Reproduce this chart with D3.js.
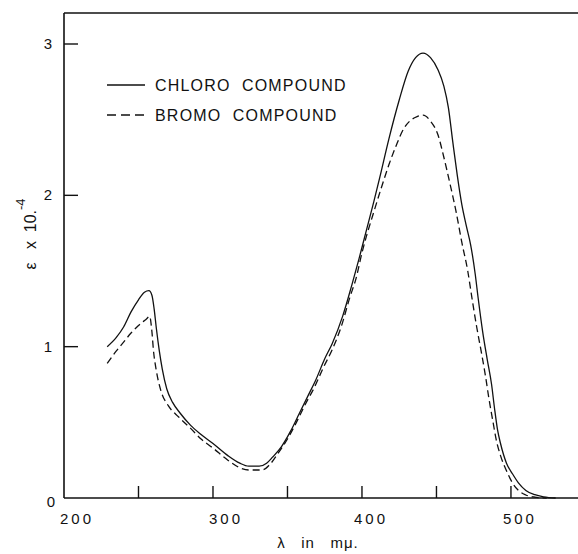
<!DOCTYPE html>
<html>
<head>
<meta charset="utf-8">
<script src="https://cdn.jsdelivr.net/npm/d3@7"></script>
<style>
  body { margin: 0; background: #fff; }
  svg { display: block; }
  text { font-family: 'Liberation Sans', Arial, sans-serif; fill: #111; white-space: pre; }
  .curve { fill: none; stroke: #111; stroke-width: 1.3; }
</style>
</head>
<body>
<div id="chart"></div>
<script>
'use strict';

// wavelength (m\u03bc) / epsilon x 10^-4
var chloroWave = [229, 235, 240, 245, 250, 254, 257, 259, 260.5, 262, 264, 266, 269, 273, 278, 285, 292, 300, 310, 318, 324, 331, 336, 340, 346, 352, 358, 364, 369, 375, 380, 387, 393, 398, 403, 408, 412, 418, 425, 431, 436, 441, 446, 451, 455, 458, 461, 464, 467, 470, 473, 476, 478, 481, 484, 487, 489, 491, 493, 497, 501, 505, 510, 516, 522, 530];
var chloroEps = [1.00, 1.06, 1.13, 1.23, 1.31, 1.36, 1.37, 1.34, 1.25, 1.12, 0.97, 0.85, 0.72, 0.63, 0.56, 0.48, 0.42, 0.36, 0.28, 0.23, 0.21, 0.21, 0.23, 0.27, 0.34, 0.44, 0.56, 0.68, 0.78, 0.92, 1.02, 1.20, 1.40, 1.58, 1.77, 1.96, 2.12, 2.37, 2.63, 2.82, 2.91, 2.94, 2.91, 2.83, 2.72, 2.58, 2.35, 2.13, 1.94, 1.80, 1.67, 1.48, 1.32, 1.10, 0.92, 0.75, 0.59, 0.45, 0.36, 0.23, 0.16, 0.10, 0.05, 0.022, 0.008, 0.0];

var bromoWave = [229, 235, 240, 245, 250, 255, 257.5, 259, 260, 262, 265, 270, 277, 285, 292, 300, 310, 318, 324, 333, 338, 344, 350, 356, 362, 368, 374, 380, 386, 392, 396, 400, 403, 407, 413, 418, 423, 428, 432, 437, 441, 446, 451, 455, 459, 463, 467, 471, 474, 477, 480, 483, 485, 488, 490, 493, 497, 501, 505, 510, 516, 524];
var bromoEps = [0.89, 0.97, 1.03, 1.09, 1.14, 1.18, 1.20, 1.10, 0.98, 0.84, 0.71, 0.61, 0.535, 0.46, 0.39, 0.33, 0.25, 0.20, 0.185, 0.185, 0.22, 0.30, 0.39, 0.50, 0.62, 0.73, 0.86, 0.98, 1.13, 1.33, 1.45, 1.62, 1.73, 1.86, 2.05, 2.20, 2.33, 2.44, 2.49, 2.52, 2.53, 2.49, 2.40, 2.25, 2.08, 1.90, 1.69, 1.50, 1.31, 1.13, 0.97, 0.80, 0.67, 0.50, 0.39, 0.28, 0.18, 0.10, 0.05, 0.02, 0.006, 0.0];

var xTicks = [250, 300, 350, 400, 450, 500];
var xTickLabels = [200, 300, 400, 500];
var yTicks = [1, 2, 3];
var yTickLabels = [0, 1, 2, 3];
var legendNames = ['CHLORO  COMPOUND', 'BROMO  COMPOUND'];

var width = 578;
var height = 554;
var margins = { left: 64, right: 0, top: 13, bottom: 56 };

var svg = d3.select('#chart').append('svg')
	.attr('width', width)
	.attr('height', height);

var x = d3.scaleLinear().domain([200, 545]).range([margins.left, width - margins.right]);
// 0 sits on the bottom axis (y=498), 3 at y=44
var y = d3.scaleLinear().domain([0, 3]).range([height - margins.bottom, 44]);

var plot = svg.append('g');

// frame: left axis, bottom axis, top line
plot.append('line').attr('x1', x(200)).attr('x2', x(200)).attr('y1', margins.top).attr('y2', y(0))
	.attr('stroke', '#111').attr('stroke-width', 1.6);
plot.append('line').attr('x1', x(200)).attr('x2', width).attr('y1', y(0)).attr('y2', y(0))
	.attr('stroke', '#111').attr('stroke-width', 1.6);
plot.append('line').attr('x1', x(200)).attr('x2', width).attr('y1', margins.top).attr('y2', margins.top)
	.attr('stroke', '#111').attr('stroke-width', 1.4);

// inward ticks
plot.selectAll('line.xtick').data(xTicks).enter().append('line')
	.attr('class', 'xtick')
	.attr('x1', function (d) { return x(d); })
	.attr('x2', function (d) { return x(d); })
	.attr('y1', y(0)).attr('y2', y(0) - 12)
	.attr('stroke', '#111').attr('stroke-width', 1.4);

plot.selectAll('line.ytick').data(yTicks).enter().append('line')
	.attr('class', 'ytick')
	.attr('x1', x(200)).attr('x2', x(200) + 14)
	.attr('y1', function (d) { return y(d); })
	.attr('y2', function (d) { return y(d); })
	.attr('stroke', '#111').attr('stroke-width', 1.4);

// tick labels
plot.selectAll('text.xlabel').data(xTickLabels).enter().append('text')
	.attr('class', 'xlabel')
	.attr('x', function (d, i) { return x(d) + (i < 2 ? 13 : 9); })
	.attr('y', 524)
	.attr('text-anchor', 'middle')
	.style('font-size', '15px')
	.style('letter-spacing', '3px')
	.text(function (d) { return d; });

plot.selectAll('text.ylabel').data(yTickLabels).enter().append('text')
	.attr('class', 'ylabel')
	.attr('x', function (d) { return d === 0 ? 55 : 52; })
	.attr('y', function (d) { return y(d) + (d === 0 ? 9 : 5); })
	.attr('text-anchor', 'end')
	.style('font-size', '15px')
	.text(function (d) { return d; });

// axis titles
var yTitle = svg.append('text')
	.attr('transform', 'translate(36,' + 234 + ') rotate(-90)')
	.attr('text-anchor', 'middle')
	.style('font-size', '16px');
yTitle.append('tspan').text('\u03b5   x  10.');
yTitle.append('tspan').attr('dy', -11).style('font-size', '13px').text('-4');

svg.append('text')
	.attr('x', 318)
	.attr('y', 548)
	.attr('text-anchor', 'middle')
	.style('font-size', '15px')
	.style('letter-spacing', '1px')
	.text('\u03bb   in   m\u03bc.');

// curves
var line = d3.line()
	.x(function (d) { return x(d[0]); })
	.y(function (d) { return y(d[1]); })
	.curve(d3.curveMonotoneX);

var chloro = d3.zip(chloroWave, chloroEps);
var bromo = d3.zip(bromoWave, bromoEps);

plot.append('path').attr('class', 'curve').attr('d', line(chloro));
plot.append('path').attr('class', 'curve').attr('d', line(bromo)).attr('stroke-dasharray', '7,4');

// legend
var legend = svg.append('g').attr('transform', 'translate(107,85)');
legend.selectAll('line').data(legendNames).enter().append('line')
	.attr('x1', 0).attr('x2', 38)
	.attr('y1', function (d, i) { return i * 30; })
	.attr('y2', function (d, i) { return i * 30; })
	.attr('stroke', '#111').attr('stroke-width', 1.4)
	.attr('stroke-dasharray', function (d, i) { return i === 1 ? '9,5' : null; });
legend.selectAll('text').data(legendNames).enter().append('text')
	.attr('x', 48)
	.attr('y', function (d, i) { return i * 30 + 6; })
	.style('font-size', '16px')
	.style('letter-spacing', '1.2px')
	.text(function (d) { return d; });
</script>
</body>
</html>
